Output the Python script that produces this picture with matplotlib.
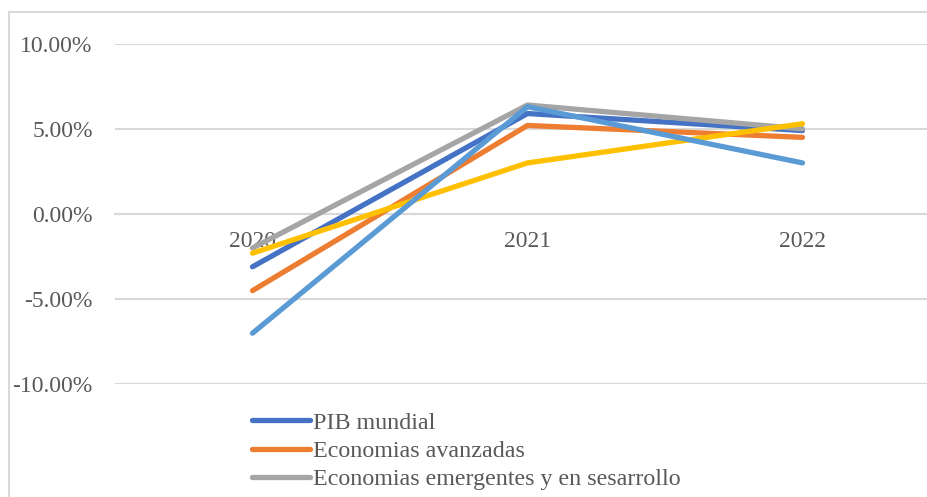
import numpy as np
import matplotlib.pyplot as plt
from matplotlib.lines import Line2D
from matplotlib.ticker import FuncFormatter

# datos (%)
anios = ["2020", "2021", "2022"]
pib_mundial = [-3.1, 5.9, 4.9]
economias_avanzadas = [-4.5, 5.2, 4.5]
economias_emergentes = [-2.0, 6.4, 5.0]
serie_4 = [-2.3, 3.0, 5.3]
serie_5 = [-7.0, 6.3, 3.0]

etiquetas = ["PIB mundial", "Economias avanzadas",
             "Economias emergentes y en sesarrollo"]
colores = ["#4472C4", "#ED7D31", "#A5A5A5", "#FFC000", "#5B9BD5"]

plt.rcParams['font.family'] = ['Liberation Serif', 'DejaVu Serif']
gris_texto = "#595959"
gris_linea = "#D9D9D9"

fig = plt.figure(figsize=(9.27, 4.97), dpi=100)
W, H = 927, 497
ax = fig.add_axes([115 / W, (H - 384.3) / H, (940 - 115) / W, (384.3 - 43.7) / H])

x = np.arange(len(anios))
series = [pib_mundial, economias_avanzadas, economias_emergentes, serie_4, serie_5]
lineas = []
for s, c in zip(series, colores):
    l, = ax.plot(x, s, color=c, lw=3.8, solid_capstyle='round', zorder=3)
    lineas.append(l)

ax.set_xlim(-0.5, 2.5)
ax.set_ylim(-10, 10)
ax.set_yticks([-10, -5, 0, 5, 10])
ax.yaxis.set_major_formatter(FuncFormatter(lambda v, p: f"{v:.2f}%"))
ax.set_xticks(x)
ax.set_xticklabels(anios)

ax.grid(axis='y', color=gris_linea, lw=1.5)
ax.set_axisbelow(True)
for sp in ['top', 'right', 'left']:
    ax.spines[sp].set_visible(False)
ax.spines['bottom'].set_position(('data', 0))
ax.spines['bottom'].set_color(gris_linea)
ax.spines['bottom'].set_linewidth(1.5)
ax.tick_params(axis='x', length=0, pad=12, labelsize=17, labelcolor=gris_texto)
ax.tick_params(axis='y', length=0, pad=16, labelsize=17, labelcolor=gris_texto)

fig.legend(lineas[:3], etiquetas, loc='upper left',
           bbox_to_anchor=(252 / W, 1 - 412 / H), frameon=False,
           fontsize=17.3, labelcolor=gris_texto, handlelength=2.4,
           handletextpad=0.15, labelspacing=0.27, borderpad=0,
           borderaxespad=0)

# borde del grafico
fig.add_artist(Line2D([9 / W, 9 / W], [0, 1 - 12 / H], transform=fig.transFigure,
                      color=gris_linea, lw=1.5))
fig.add_artist(Line2D([9 / W, 1], [1 - 12 / H, 1 - 12 / H], transform=fig.transFigure,
                      color=gris_linea, lw=1.5))

fig.savefig("out.png", dpi=100)
